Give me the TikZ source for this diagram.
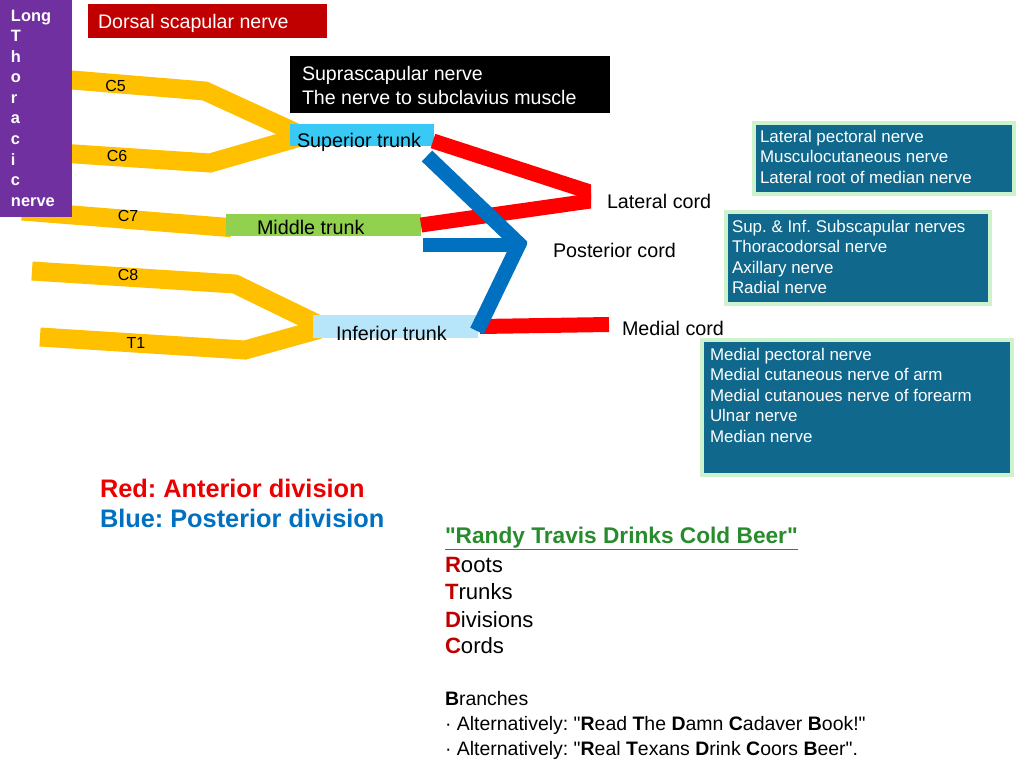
\documentclass[tikz,border=0pt]{standalone}
\usepackage{fontspec}
\setmainfont{Liberation Sans}[Ligatures=TeXOff]
\usetikzlibrary{shadows}
\pgfdeclarelayer{background}
\pgfsetlayers{background,main}
\definecolor{rootorange}{RGB}{255,192,0}
\definecolor{ltnpurple}{RGB}{112,48,160}
\definecolor{dsred}{RGB}{192,0,0}
\definecolor{supcyan}{RGB}{56,202,245}
\definecolor{midgreen}{RGB}{146,208,80}
\definecolor{infblue}{RGB}{183,230,250}
\definecolor{antred}{RGB}{255,0,0}
\definecolor{postblue}{RGB}{0,112,192}
\definecolor{branchteal}{RGB}{16,104,140}
\definecolor{branchrim}{RGB}{205,242,205}
\definecolor{legred}{RGB}{235,0,0}
\definecolor{mngreen}{RGB}{40,140,45}
\definecolor{mnred}{RGB}{192,0,0}
\newcommand{\straightq}{\symbol{34}}
\frenchspacing
\begin{document}
\begin{tikzpicture}[x=0.75pt,y=-0.75pt,
  root/.style={draw=rootorange,line width=14.25pt,line join=miter},
  antdiv/.style={draw=antred,line width=11.25pt},
  postdiv/.style={draw=postblue,line width=11.25pt,line join=miter},
  tbox/.style={inner sep=0pt,outer sep=0pt,anchor=north west},
  txt/.style={inner sep=0pt,outer sep=0pt},
  rootlbl/.style={txt,font=\fontsize{12}{14}\selectfont},
  trlbl/.style={txt,anchor=base west,font=\fontsize{14.8}{17}\selectfont},
  brbox/.style={anchor=north west,inner sep=0pt,fill=branchteal,draw=branchrim,line width=3pt,
    drop shadow={shadow xshift=1.2pt,shadow yshift=-1.5pt,opacity=0.3}},
  brtxt/.style={txt,anchor=north west,align=left,text=white,font=\fontsize{12.7}{15.4}\selectfont},
  mnline/.style={txt,anchor=base west,font=\fontsize{16.6}{20}\selectfont},
  altline/.style={txt,anchor=base west,font=\fontsize{14.6}{18}\selectfont},
]
\useasboundingbox (0,0) rectangle (1024,768);

% ---------- boxes ----------
\node[tbox,fill=ltnpurple,minimum width=54pt,minimum height=162.75pt] (ltn) at (0,0) {};
\node[txt,anchor=north west,align=left,text=white,font=\bfseries\fontsize{12.3}{15.4}\selectfont] (ltnt) at (11,10)
  {Long\\T\\h\\o\\r\\a\\c\\i\\c\\nerve};
\node[tbox,fill=dsred,minimum width=179.25pt,minimum height=25.5pt] (dsn) at (88,4) {};
\node[txt,anchor=base west,text=white,font=\fontsize{14.7}{17}\selectfont] (dsnt) at (98,28) {Dorsal scapular nerve};
\node[tbox,fill=black,minimum width=240pt,minimum height=42.75pt] (ssn) at (290,56) {};
\node[txt,anchor=north west,align=left,text=white,font=\fontsize{14.7}{18}\selectfont] (ssnt) at (302,66)
  {Suprascapular nerve\\The nerve to subclavius muscle};

% trunks
\node[tbox,fill=supcyan,minimum width=108pt,minimum height=16.5pt] (sup) at (290,124) {};
\node[tbox,fill=midgreen,minimum width=146.25pt,minimum height=16.5pt] (mid) at (226,214) {};
\node[tbox,fill=infblue,minimum width=123.75pt,minimum height=17.25pt] (inf) at (313,315) {};

% ---------- roots ----------
\coordinate (c5a) at (60,79);  \coordinate (c5b) at (205,91);
\coordinate (c6a) at (60,153); \coordinate (c6b) at (210,163);
\coordinate (c7a) at (22,211);
\coordinate (c8a) at (32,271); \coordinate (c8b) at (235,284);
\coordinate (t1a) at (40,337); \coordinate (t1b) at (245,350);
\begin{pgfonlayer}{background}
\fill[white] (0,0) rectangle (1024,768);
\draw[root] (c5a) -- (c5b) -- ([xshift=6pt,yshift=1pt]sup.west);
\draw[root] (c6a) -- (c6b) -- ([xshift=6pt,yshift=-2pt]sup.west);
\draw[root] (c7a) -- ([xshift=4pt,yshift=-2pt]mid.west);
\draw[root] (c8a) -- (c8b) -- ([xshift=5pt,yshift=1pt]inf.west);
\draw[root] (t1a) -- (t1b) -- ([xshift=5pt,yshift=-2pt]inf.west);
\end{pgfonlayer}

\node[rootlbl] (c5) at (115.5,86) {C5};
\node[rootlbl] (c6) at (117,156) {C6};
\node[rootlbl] (c7) at (128,216) {C7};
\node[rootlbl] (c8) at (128,275) {C8};
\node[rootlbl] (t1) at (136,343) {T1};

\node[trlbl] (supt) at (297,147) {Superior trunk};
\node[trlbl] (midt) at (257,234) {Middle trunk};
\node[trlbl] (inft) at (336,340) {Inferior trunk};

% ---------- cords ----------
\node[trlbl] (lat) at (607,208) {Lateral cord};
\node[trlbl] (post) at (553,257) {Posterior cord};
\node[trlbl] (med) at (622,335) {Medial cord};

% ---------- divisions ----------
\coordinate (supout) at (433,141);
\coordinate (midout) at (421,225);
\coordinate (latv1) at (598,194.6);
\coordinate (latv2) at (598,199.9);
\begin{scope}
\clip (0,0) rectangle (591,768);
\draw[antdiv] (supout) -- (latv1);
\draw[antdiv] (midout) -- (latv2);
\end{scope}
\coordinate (infout) at (480,326.5);
\coordinate (medv) at (609,324.5);
\draw[antdiv] (infout) -- (medv);

\coordinate (supblue) at (427,156);
\coordinate (postv) at (519,244);
\coordinate (infblueend) at (477,331);
\coordinate (midblue) at (423,245);
\coordinate (postvh) at (517,245);
\draw[draw=postblue,line width=10.5pt] (midblue) -- (postvh);
\begin{scope}
\clip (0,0) rectangle (527,768);
\draw[postdiv] (supblue) -- (postv) -- (infblueend);
\end{scope}

% ---------- branch boxes ----------
\node[brbox,minimum width=195pt,minimum height=53.25pt] (b1) at (752,121) {};
\node[brtxt] (b1t) at (760,130) {Lateral pectoral nerve\\Musculocutaneous nerve\\Lateral root of median nerve};
\node[brbox,minimum width=198pt,minimum height=69pt] (b2) at (724,210) {};
\node[brtxt] (b2t) at (732,220) {Sup. \& Inf. Subscapular nerves\\Thoracodorsal nerve\\Axillary nerve\\Radial nerve};
\node[brbox,minimum width=232.5pt,minimum height=101.25pt] (b3) at (700,338) {};
\node[brtxt] (b3t) at (710,348) {Medial pectoral nerve\\Medial cutaneous nerve of arm\\Medial cutanoues nerve of forearm\\Ulnar nerve\\Median nerve};

% ---------- legend ----------
\node[txt,anchor=base west,text=legred,font=\bfseries\fontsize{19}{23}\selectfont] (legr) at (100,497) {Red: Anterior division};
\node[txt,anchor=base west,text=postblue,font=\bfseries\fontsize{19}{23}\selectfont] (legb) at (100,527) {Blue: Posterior division};

% ---------- mnemonic ----------
\node[txt,anchor=base west,text=mngreen,font=\bfseries\fontsize{17}{20}\selectfont] (mnt) at (445,543) {\underline{\straightq Randy Travis Drinks Cold Beer\straightq}};
\node[mnline] (mr) at (445,572) {\textcolor{mnred}{\textbf{R}}oots};
\node[mnline] (mtr) at (445,599) {\textcolor{mnred}{\textbf{T}}runks};
\node[mnline] (md) at (445,627) {\textcolor{mnred}{\textbf{D}}ivisions};
\node[mnline] (mc) at (445,653) {\textcolor{mnred}{\textbf{C}}ords};
\node[altline] (mb) at (445,705) {\textbf{B}ranches};
\node[altline] (ma1) at (445,730) {· Alternatively: \straightq\textbf{R}ead \textbf{T}he \textbf{D}amn \textbf{C}adaver \textbf{B}ook!\straightq};
\node[altline] (ma2) at (445,755) {· Alternatively: \straightq\textbf{R}eal \textbf{T}exans \textbf{D}rink \textbf{C}oors \textbf{B}eer\straightq.};
\end{tikzpicture}
\end{document}
